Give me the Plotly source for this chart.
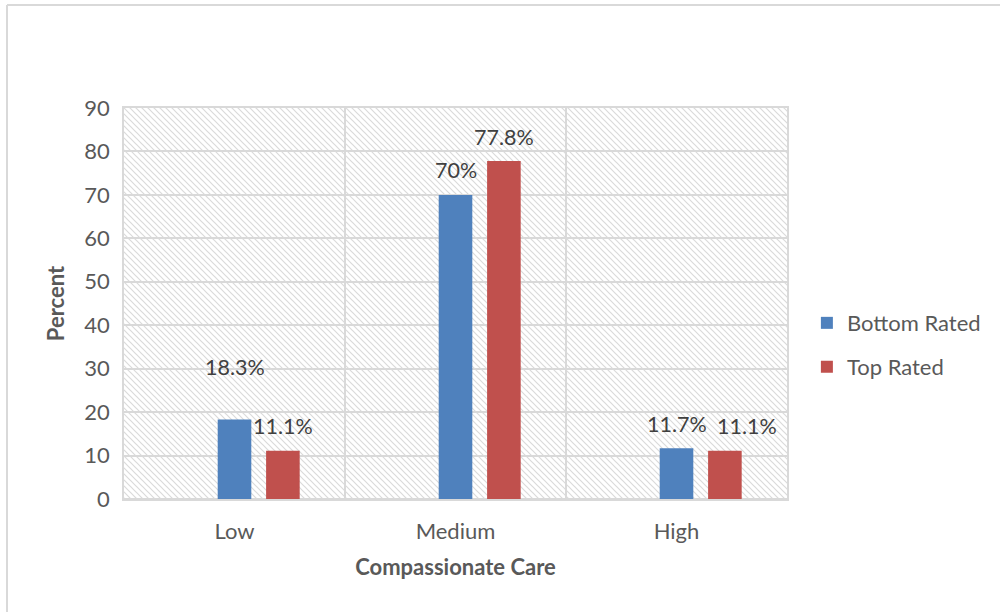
import base64
import plotly.graph_objects as go

categories = ["Low", "Medium", "High"]
bottom_rated = [18.3, 70, 11.7]
top_rated = [11.1, 77.8, 11.1]
bottom_labels = ["18.3%", "70%", "11.7%"]
top_labels = ["11.1%", "77.8%", "11.1%"]
series_names = ["Bottom Rated", "Top Rated"]
y_ticks = [0, 10, 20, 30, 40, 50, 60, 70, 80, 90]

BLUE = "#4f81bd"
RED = "#c0504d"
GRID = "#d9d9d9"
FONT = "Lato"
TXT = "#595959"
FS = 22

BAR_W = 0.152
OFF_B = -0.076
OFF_R = 0.143

svg = (
    "<svg xmlns='http://www.w3.org/2000/svg' width='663' height='391' preserveAspectRatio='none'>"
    "<defs><pattern id='p' width='6' height='6' patternUnits='userSpaceOnUse'>"
    "<path d='M-1,5 l2,2 M0,0 l6,6 M5,-1 l2,2' stroke='#dadada' stroke-width='1.2'/>"
    "</pattern></defs><rect width='100%' height='100%' fill='url(#p)'/></svg>"
)
src = "data:image/svg+xml;base64," + base64.b64encode(svg.encode()).decode()

fig = go.Figure()
fig.add_trace(go.Bar(x=categories, y=bottom_rated, name=series_names[0],
                     marker=dict(color=BLUE, line=dict(width=0)),
                     width=BAR_W, offset=OFF_B, legend="legend", showlegend=True))
fig.add_trace(go.Bar(x=categories, y=top_rated, name=series_names[1],
                     marker=dict(color=RED, line=dict(width=0)),
                     width=BAR_W, offset=OFF_R, legend="legend2", showlegend=True))

# data labels (manually placed like the original)
b_shift = [(0, 53), (0, 25), (0, 24)]
r_shift = [(0, 25), (0, 24), (22, 25)]
ann = []
for i, (v, t) in enumerate(zip(bottom_rated, bottom_labels)):
    ann.append(dict(x=i + OFF_B + BAR_W / 2, y=v, xref="x", yref="y", text=t,
                    showarrow=False, xanchor="center", yanchor="middle",
                    xshift=b_shift[i][0], yshift=b_shift[i][1],
                    font=dict(family=FONT, size=21.5, color="#404040")))
for i, (v, t) in enumerate(zip(top_rated, top_labels)):
    ann.append(dict(x=i + OFF_R + BAR_W / 2, y=v, xref="x", yref="y", text=t,
                    showarrow=False, xanchor="center", yanchor="middle",
                    xshift=r_shift[i][0], yshift=r_shift[i][1],
                    font=dict(family=FONT, size=21.5, color="#404040")))

fig.update_layout(
    width=1000, height=612,
    margin=dict(l=124, r=213, t=108, b=113),
    paper_bgcolor="white", plot_bgcolor="white",
    barmode="overlay", showlegend=True,
    font=dict(family=FONT, size=FS, color=TXT),
    annotations=ann,
    images=[dict(source=src, xref="x domain", yref="y domain", x=0, y=1,
                 sizex=1, sizey=1, xanchor="left", yanchor="top",
                 sizing="stretch", layer="below")],
    legend=dict(x=1.03, y=0.45, xanchor="left", yanchor="middle",
                font=dict(family=FONT, size=FS, color=TXT), bgcolor="rgba(0,0,0,0)"),
    legend2=dict(x=1.03, y=0.338, xanchor="left", yanchor="middle",
                 font=dict(family=FONT, size=FS, color=TXT), bgcolor="rgba(0,0,0,0)"),
    shapes=[
        dict(type="line", xref="paper", yref="paper", x0=-0.1765, x1=1.33, y0=1.2634, y1=1.2634,
             line=dict(color=GRID, width=2)),
        dict(type="line", xref="paper", yref="paper", x0=-0.1765, x1=-0.1765, y0=1.2634, y1=-0.3,
             line=dict(color=GRID, width=2)),
    ],
)
fig.update_xaxes(
    type="category", range=[-0.5, 2.5], tickson="boundaries",
    showgrid=True, gridcolor=GRID, gridwidth=1.5,
    showline=True, linecolor=GRID, linewidth=1.5, mirror=True,
    ticks="", ticklabelstandoff=12, tickfont=dict(family=FONT, size=FS, color=TXT),
    title=dict(text="<b>Compassionate Care</b>", standoff=16,
               font=dict(family=FONT, size=FS, color=TXT)),
)
fig.update_yaxes(
    range=[0, 90], tickvals=y_ticks, ticktext=[str(t) for t in y_ticks],
    showgrid=True, gridcolor=GRID, gridwidth=1.5,
    zeroline=True, zerolinecolor=GRID, zerolinewidth=1.5,
    showline=True, linecolor=GRID, linewidth=1.5, mirror=True,
    ticks="", ticklabelstandoff=8, tickfont=dict(family=FONT, size=FS, color=TXT),
    title=dict(text="<b>Percent</b>", standoff=14,
               font=dict(family=FONT, size=FS, color=TXT)),
)

fig.write_html("out.html")
